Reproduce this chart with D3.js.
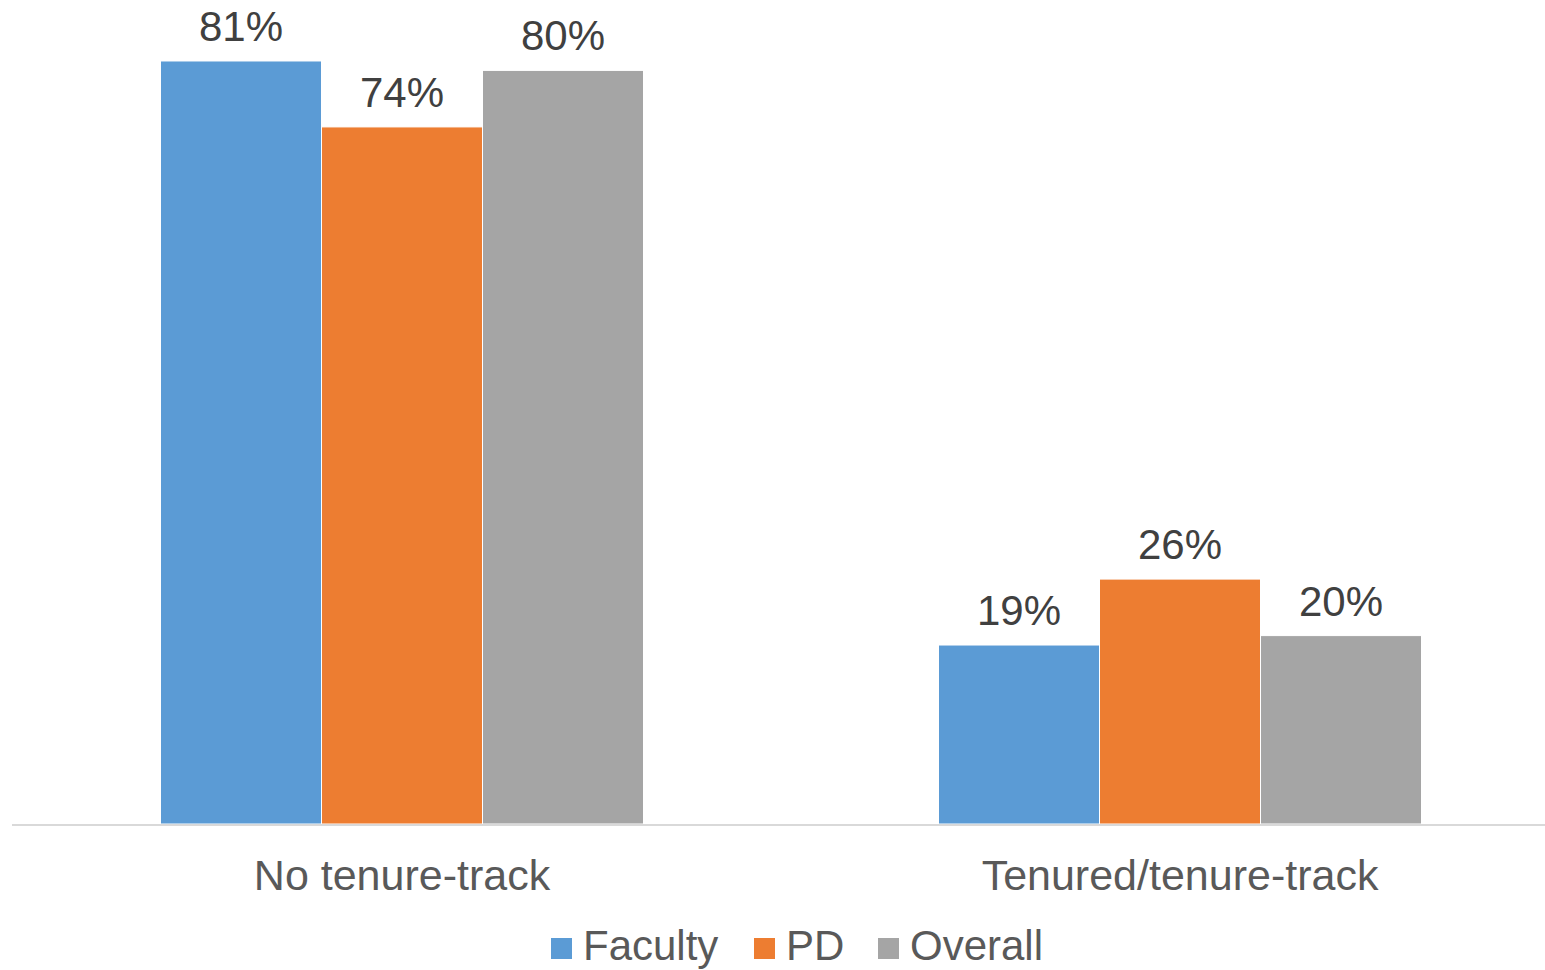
<!DOCTYPE html>
<html>
<head>
<meta charset="utf-8">
<script src="https://cdn.jsdelivr.net/npm/d3@7"></script>
<style>
  body { margin: 0; background: #fff; }
  text { font-family: "Liberation Sans", Arial, sans-serif; }
</style>
</head>
<body>
<script>
var w = 1545,
    h = 970,
    baseY = 824,
    fontSize = 42;

// data
var categories = ["No tenure-track", "Tenured/tenure-track"];
var seriesNames = ["Faculty", "PD", "Overall"];
var colors = ["#5b9bd5", "#ed7d31", "#a5a5a5"];
var facultyValues = [81, 19];
var pdValues = [74, 26];
var overallValues = [80, 20];
var seriesValues = [facultyValues, pdValues, overallValues];

var svg = d3.select("body").append("svg")
  .attr("width", w)
  .attr("height", h);

// scales
var x0 = d3.scaleBand()
  .domain(categories)
  .range([13, 1569])
  .paddingInner(0)
  .paddingOuter(0);

var groupWidth = 483;
var x1 = d3.scaleBand()
  .domain(seriesNames)
  .range([0, groupWidth]);

var y = d3.scaleLinear()
  .domain([0, 100])
  .range([baseY, baseY - 942]);

// bars
var groups = svg.selectAll("g.group")
  .data(categories)
  .enter().append("g")
  .attr("class", "group")
  .attr("transform", function(d) {
    return "translate(" + (x0(d) + (x0.bandwidth() - groupWidth) / 2) + ",0)";
  });

groups.selectAll("rect")
  .data(function(d, i) {
    return seriesNames.map(function(s, j) {
      return { series: s, value: seriesValues[j][i], color: colors[j] };
    });
  })
  .enter().append("rect")
  .attr("x", function(d) { return x1(d.series); })
  .attr("y", function(d) { return y(d.value); })
  .attr("width", x1.bandwidth())
  .attr("height", function(d) { return baseY - y(d.value); })
  .attr("fill", function(d) { return d.color; })
  .attr("stroke", "#fff")
  .attr("stroke-width", 1);

// value labels
groups.selectAll("text.val")
  .data(function(d, i) {
    return seriesNames.map(function(s, j) {
      return { series: s, value: seriesValues[j][i] };
    });
  })
  .enter().append("text")
  .attr("class", "val")
  .attr("x", function(d) { return x1(d.series) + x1.bandwidth() / 2; })
  .attr("y", function(d) { return y(d.value) - 20; })
  .attr("text-anchor", "middle")
  .attr("font-size", fontSize)
  .attr("fill", "#404040")
  .text(function(d) { return d.value + "%"; });

// axis line
svg.append("line")
  .attr("x1", 12).attr("x2", w)
  .attr("y1", baseY + 1).attr("y2", baseY + 1)
  .attr("stroke", "#d9d9d9")
  .attr("stroke-width", 2);

// category labels
var xAxis = d3.axisBottom(x0).tickSize(0).tickPadding(0);
var axisG = svg.append("g")
  .attr("transform", "translate(0," + 890 + ")")
  .call(xAxis);
axisG.select(".domain").remove();
axisG.selectAll("text")
  .attr("dy", 0)
  .attr("y", 0)
  .attr("font-size", 43)
  .attr("font-family", "Liberation Sans, Arial, sans-serif")
  .attr("fill", "#595959");

// legend
var legendX = [551, 754, 878];
var legend = svg.selectAll("g.legend")
  .data(seriesNames)
  .enter().append("g")
  .attr("class", "legend")
  .attr("transform", function(d, i) { return "translate(" + legendX[i] + ",0)"; });

legend.append("rect")
  .attr("x", 0).attr("y", 938)
  .attr("width", 21).attr("height", 21)
  .attr("fill", function(d, i) { return colors[i]; });

legend.append("text")
  .attr("x", 32).attr("y", 960)
  .attr("font-size", fontSize)
  .attr("fill", "#595959")
  .text(function(d) { return d; });
</script>
</body>
</html>
